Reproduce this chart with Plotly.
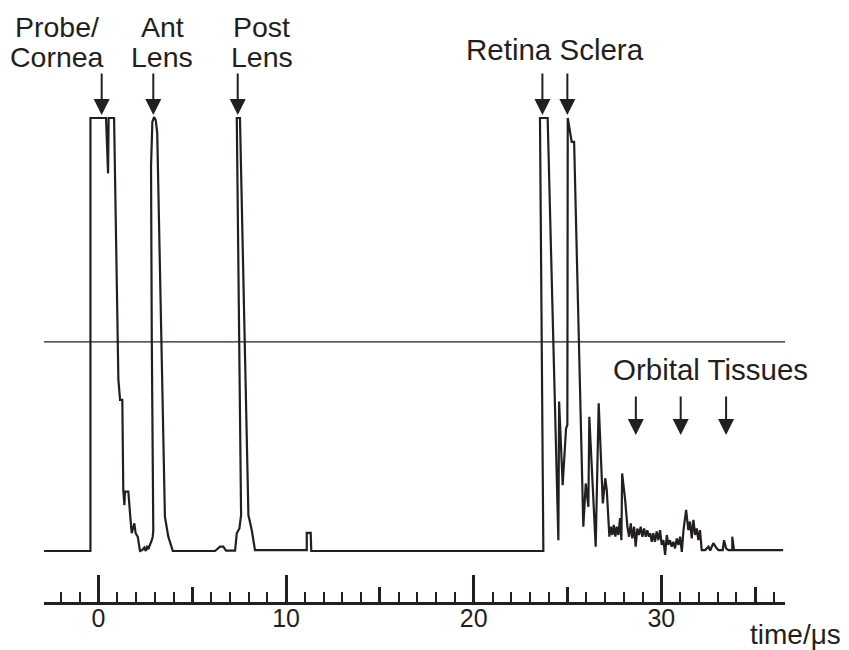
import plotly.graph_objects as go

# A-scan trace, time in microseconds, amplitude in % of saturation
t_us = [-2.9, -0.43, -0.43, 0.40, 0.51, 0.54, 0.83, 1.06, 1.15, 1.27, 1.32, 1.38, 1.41, 1.59,
        1.68, 1.77, 1.91, 1.98, 2.09, 2.16, 2.21, 2.33, 2.44, 2.52, 2.59, 2.65, 2.75, 2.84, 2.89,
        2.92, 2.84, 2.80, 2.87, 2.96, 3.05, 3.13, 3.54, 3.72, 3.96,
        6.21, 6.48, 6.65, 6.80, 7.28, 7.37, 7.51, 7.60, 7.37, 7.54, 7.99, 8.17, 8.34,
        11.10, 11.10, 11.31, 11.34,
        23.71, 23.53, 23.94, 24.51, 24.55, 24.74, 24.92, 24.99, 25.01, 25.13, 25.22, 25.35,
        25.84, 25.97, 26.05, 26.11, 26.16, 26.50, 26.66, 26.88, 27.01, 27.09, 27.23, 27.30,
        27.39, 27.46, 27.55, 27.62, 27.71, 27.80, 27.87, 27.91, 28.07, 28.19, 28.28, 28.37,
        28.45, 28.55, 28.63, 28.72, 28.81, 28.90, 28.99, 29.08, 29.17, 29.25, 29.34, 29.40,
        29.49, 29.57, 29.66, 29.75, 29.84, 29.93, 30.02, 30.11, 30.20, 30.29, 30.37, 30.46,
        30.55, 30.64, 30.73, 30.82, 30.91, 31.00, 31.09, 31.18, 31.32, 31.44, 31.53, 31.62,
        31.71, 31.80, 31.89, 31.97, 32.06, 32.15, 32.33, 32.51, 32.60, 32.68, 32.77, 32.95,
        33.04, 33.27, 33.34, 33.45, 33.57, 33.78, 33.78, 33.87, 36.49]
amp = [0, 0, 100, 100, 87.2, 100, 100, 39.5, 34.9, 34.9, 14.1, 10.6, 13.7, 13.7,
       8.7, 4.1, 6.4, 4.1, 3.3, 1.8, 0, 0.2, 0.8, 0, 1.2, 0.4, 1.4, 2.5, 3.3,
       4.8, 48.7, 88.8, 99.1, 100.2, 99.5, 96.5, 7.9, 3.3, 0,
       0, 1.0, 1.0, 0.1, 0.1, 4.1, 5.2, 8.3, 100, 100, 8.3, 4.8, 0.2,
       0.2, 4.2, 4.2, 0,
       0, 100, 100, 2.5, 34.5, 15.2, 28.3, 29.1, 100, 96.8, 94.5, 94.5,
       5.6, 15.6, 12.5, 10.2, 31.0, 1.0, 34.1, 11.0, 16.8, 14.1, 3.3, 5.6,
       3.7, 6.0, 3.3, 5.6, 3.7, 7.6, 2.5, 17.9, 11.8, 5.6, 3.3, 6.4,
       2.9, 5.6, 1.0, 5.2, 3.7, 5.6, 3.3, 5.2, 3.3, 4.8, 3.3, 4.1,
       2.1, 4.1, 2.1, 4.5, 2.5, 4.8, 1.4, 2.5, -0.9, 3.7, 1.4, 2.5,
       1.0, 2.1, 0.6, 2.9, 1.4, 3.3, -0.2, 4.8, 9.5, 4.8, 6.8, 2.9,
       7.2, 3.7, 5.2, 2.5, 4.8, 0.2, 0.2, 1.0, 0.1, 1.0, 1.8, 0.6,
       0.2, 0.2, 2.5, 0.6, 0.2, 0.2, 3.3, 0.2, 0.2]

threshold = 48.3

# echo labels (text, x position, y position)
label_text = ['Probe/', 'Cornea', 'Ant', 'Lens', 'Post', 'Lens', 'Retina Sclera', 'Orbital Tissues']
label_x = [-2.2, -2.2, 3.41, 3.41, 8.70, 8.70, 24.33, 32.6]
label_y = [121.0, 114.1, 121.0, 114.1, 121.0, 114.1, 115.9, 42.0]
label_size = [28.5, 28.5, 28.5, 28.5, 28.5, 28.5, 29.5, 29.5]

# arrows (x, tail y, tip y)
arrow_x = [0.17, 2.92, 7.42, 23.66, 24.99, 28.64, 31.03, 33.45]
arrow_tail = [110.6, 110.6, 110.6, 110.6, 110.6, 36.0, 36.0, 36.0]
arrow_tip = [100.7, 100.7, 100.7, 100.7, 100.7, 26.8, 26.8, 26.8]

major_ticks = [0, 10, 20, 30]
mid_ticks = [5, 15, 25, 35]
minor_ticks = list(range(-2, 37))

ink = '#231f20'
font = 'Liberation Sans, Arial, sans-serif'
x_range = [-2.905, 36.59]

fig = go.Figure()
fig.add_trace(go.Scatter(x=t_us, y=amp, mode='lines',
                         line=dict(color=ink, width=2.2), showlegend=False, hoverinfo='skip'))
# empty trace so the overlay axis (mid-length ticks) is drawn
fig.add_trace(go.Scatter(x=[], y=[], xaxis='x2', showlegend=False))

fig.add_hline(y=threshold, line_width=1.2, line_color=ink)

for txt, x, y, s in zip(label_text, label_x, label_y, label_size):
    fig.add_annotation(x=x, y=y, xref='x', yref='y', text=txt, showarrow=False,
                       font=dict(size=s, color=ink, family=font))

for x, y0, y1 in zip(arrow_x, arrow_tail, arrow_tip):
    fig.add_annotation(x=x, y=y1, ax=x, ay=y0, xref='x', yref='y', axref='x', ayref='y',
                       text='', showarrow=True, arrowhead=2, arrowsize=1.6,
                       arrowwidth=2, arrowcolor=ink)

fig.add_annotation(x=1.078, y=-0.084, xref='paper', yref='paper', text='time/μs',
                   xanchor='right', yanchor='bottom', showarrow=False,
                   font=dict(size=28, color=ink, family=font))

fig.update_layout(
    width=841,
    height=642,
    margin=dict(l=36, r=64, t=0, b=48, pad=0),
    plot_bgcolor='white',
    paper_bgcolor='white',
    xaxis=dict(
        range=x_range,
        showgrid=False,
        zeroline=False,
        showline=True,
        linewidth=3,
        linecolor=ink,
        ticks='inside',
        tickvals=major_ticks,
        ticklen=27,
        tickwidth=3,
        tickcolor=ink,
        tickfont=dict(size=25, color=ink, family=font),
        ticklabelstandoff=-8,
        minor=dict(tickvals=minor_ticks, ticks='inside', ticklen=10, tickwidth=1.8,
                   tickcolor=ink, showgrid=False),
    ),
    xaxis2=dict(
        range=x_range,
        overlaying='x',
        anchor='y',
        side='bottom',
        showgrid=False,
        zeroline=False,
        showline=False,
        ticks='inside',
        tickvals=mid_ticks,
        ticklen=15,
        tickwidth=2.5,
        tickcolor=ink,
        showticklabels=False,
    ),
    yaxis=dict(range=[-11.78, 125.4], visible=False, showgrid=False, zeroline=False),
)

fig.write_html("out.html")
